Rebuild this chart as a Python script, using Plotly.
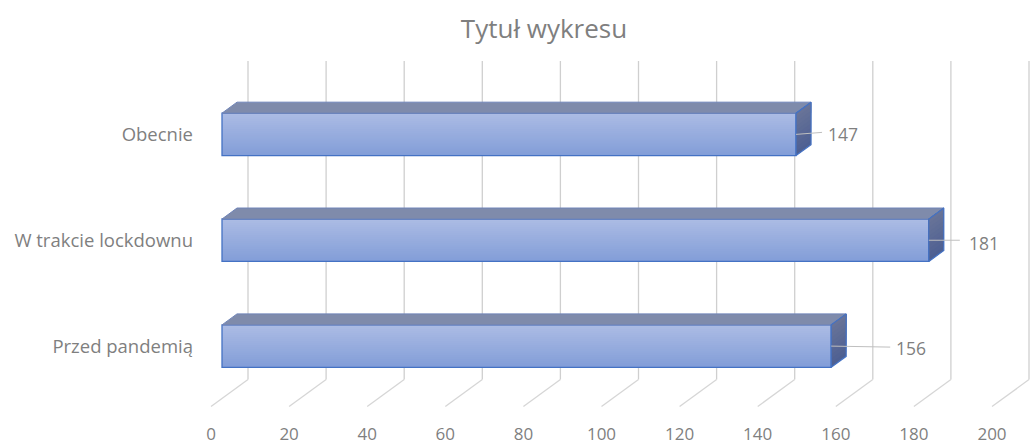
import plotly.graph_objects as go

# ---- data ----
categories = ["Przed pandemią", "W trakcie lockdownu", "Obecnie"]
values = [156, 181, 147]
tick_values = [0, 20, 40, 60, 80, 100, 120, 140, 160, 180, 200]
tick_labels = ["0", "20", "40", "60", "80", "100", "120", "140", "160", "180", "200"]
title_text = "Tytuł wykresu"

# ---- geometry (pixel scale of the picture) ----
W, H = 1034, 445
L, R, T, B = 197, 0, 40, 22.5
PX_X = 3.905           # pixels per value unit
PX_Y = 106.0           # pixels per category step
X0 = 222               # pixel of value 0 on the front plane
Y0 = 346.5             # pixel of the first category
BAR = 42.5 / PX_Y      # bar thickness in category units
DEPTH_X, DEPTH_Y = 15 / PX_X, 11 / PX_Y   # bar depth
WALL_X = 26 / PX_X     # back wall offset from the front plane
GRID_TOP = (Y0 - 61) / PX_Y
GRID_BOTTOM = (Y0 - 380) / PX_Y
FLOOR_DX, FLOOR_DY = -37 / PX_X, -27 / PX_Y

label_dx = [80, 55, 47]
leader_dx = [59, 31, 26]
leader_dy = [-1, 0, 2]
label_dy = [-1.5, -2.5, 0.5]

GREY = "#7f7f7f"
FONT = "Open Sans"
positions = list(range(len(categories)))


def mix(a, b, t):
    return "rgb(%d,%d,%d)" % tuple(round(a[i] + (b[i] - a[i]) * t) for i in range(3))


fig = go.Figure()

# front face: a vertical gradient, each band painted from its level up to the bar top
N = 21
band = BAR / N
front_top, front_bottom = (171, 187, 228), (131, 158, 216)
for i in range(N):
    fig.add_trace(go.Bar(
        x=values, y=positions, orientation="h", width=BAR - i * band,
        offset=-BAR / 2 + i * band,
        marker=dict(color=mix(front_bottom, front_top, i / (N - 1)), line=dict(width=0)),
        hoverinfo="skip", showlegend=False,
    ))
# outline of the front face
fig.add_trace(go.Bar(
    x=values, y=positions, orientation="h", width=BAR,
    marker=dict(color="rgba(0,0,0,0)", line=dict(color="#4472c4", width=1.3)),
    hoverinfo="skip", showlegend=False,
))

# top and side faces
for v, p in zip(values, positions):
    top = p + BAR / 2
    low = p - BAR / 2
    fig.add_trace(go.Scatter(
        x=[0, DEPTH_X, v + DEPTH_X, v, 0],
        y=[top, top + DEPTH_Y, top + DEPTH_Y, top, top],
        mode="lines", fill="toself", fillcolor="#7f8bab",
        line=dict(color="#6f84b8", width=1), hoverinfo="skip", showlegend=False,
    ))
    S = 10
    for j in range(S):
        a = low + BAR * j / S
        fig.add_trace(go.Scatter(
            x=[v, v + DEPTH_X, v + DEPTH_X, v, v],
            y=[a, a + DEPTH_Y, top + DEPTH_Y, top, a],
            mode="lines", fill="toself",
            fillcolor=mix((78, 96, 146), (104, 115, 152), j / (S - 1)),
            line=dict(width=0), hoverinfo="skip", showlegend=False,
        ))
    fig.add_trace(go.Scatter(
        x=[v, v + DEPTH_X, v + DEPTH_X, v, v],
        y=[low, low + DEPTH_Y, top + DEPTH_Y, top, low],
        mode="lines", line=dict(color="#4472c4", width=1.2),
        hoverinfo="skip", showlegend=False,
    ))

# leader lines
for v, p, dx, dy in zip(values, positions, leader_dx, leader_dy):
    fig.add_trace(go.Scatter(
        x=[v, v + dx / PX_X], y=[p, p + dy / PX_Y], mode="lines",
        line=dict(color="#bfbfbf", width=1), hoverinfo="skip", showlegend=False,
    ))

# back wall and floor grid lines, behind the bars
shapes = []
for t in tick_values:
    xb = t + WALL_X
    shapes.append(dict(type="line", layer="below", xref="x", yref="y",
                       x0=xb, x1=xb, y0=GRID_BOTTOM, y1=GRID_TOP,
                       line=dict(color="#cfcfcf", width=1.3)))
    shapes.append(dict(type="line", layer="below", xref="x", yref="y",
                       x0=xb, x1=xb + FLOOR_DX, y0=GRID_BOTTOM, y1=GRID_BOTTOM + FLOOR_DY,
                       line=dict(color="#d6d6d6", width=1.3)))

annotations = [
    dict(x=v, y=p, xref="x", yref="y", xshift=dx, yshift=dy, text=str(v),
         showarrow=False, font=dict(family=FONT, size=17.5, color=GREY))
    for v, p, dx, dy in zip(values, positions, label_dx, label_dy)
]

fig.update_layout(
    width=W, height=H,
    margin=dict(l=L, r=R, t=T, b=B, pad=0),
    paper_bgcolor="white", plot_bgcolor="white",
    barmode="overlay", showlegend=False,
    title=dict(text=title_text, x=544 / W, xanchor="center", y=1 - 29 / H, yanchor="middle",
               xref="container", yref="container",
               font=dict(family=FONT, size=26, color=GREY)),
    xaxis=dict(
        range=[(L - X0) / PX_X, (W - R - X0) / PX_X],
        tickmode="array", tickvals=tick_values, ticktext=tick_labels,
        ticklabelshift=-11, ticklen=0, automargin=False,
        showgrid=False, zeroline=False, showline=False,
        tickfont=dict(family=FONT, size=17, color=GREY),
    ),
    yaxis=dict(
        range=[(Y0 - (H - B)) / PX_Y, (Y0 - T) / PX_Y],
        tickmode="array", tickvals=positions, ticktext=categories,
        ticklabelstandoff=3, ticklen=0, automargin=False,
        showgrid=False, zeroline=False, showline=False,
        tickfont=dict(family=FONT, size=18.5, color=GREY),
    ),
    shapes=shapes, annotations=annotations,
)

fig.write_html("out.html", config={"displayModeBar": False},
               post_script="document.body.style.margin='0';")
